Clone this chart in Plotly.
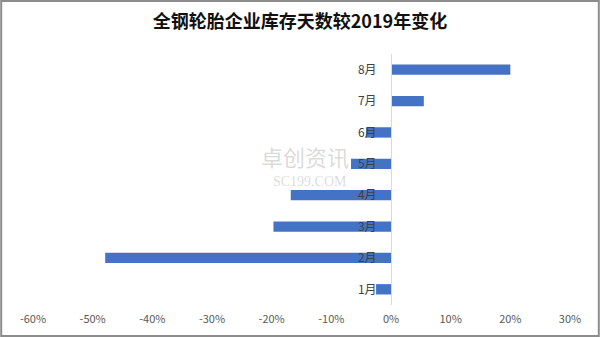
import plotly.graph_objects as go

months = ["1月", "2月", "3月", "4月", "5月", "6月", "7月", "8月"]
changes = [-0.025, -0.479, -0.197, -0.168, -0.067, -0.042, 0.055, 0.20]
x_ticks = [-0.6, -0.5, -0.4, -0.3, -0.2, -0.1, 0, 0.1, 0.2, 0.3]
x_tick_labels = ["-60%", "-50%", "-40%", "-30%", "-20%", "-10%", "0%", "10%", "20%", "30%"]
title_text = "全钢轮胎企业库存天数较2019年变化"

W, H = 600, 337
x_left, x_right = 33, 570
x_min, x_max = -0.6, 0.3
zero_px = x_left + (0 - x_min) / (x_max - x_min) * (x_right - x_left)

fig = go.Figure(go.Bar(
    x=changes, y=months, orientation="h",
    marker=dict(color="#4472C4", line=dict(width=0)),
    width=0.33,
))

fig.update_layout(
    width=W, height=H,
    margin=dict(l=0, r=0, t=0, b=0, autoexpand=False),
    paper_bgcolor="white", plot_bgcolor="white",
    showlegend=False,
    font=dict(family="Noto Sans CJK SC, Noto Sans, sans-serif", color="#404040"),
    title=dict(text="<b>" + title_text + "</b>", x=0.5, xanchor="center",
               y=1 - 22 / H, yanchor="middle",
               font=dict(size=18, color="#111111",
                         family="Noto Sans CJK SC, sans-serif")),
    xaxis=dict(domain=[x_left / W, x_right / W], range=[x_min, x_max],
               tickvals=x_ticks, ticktext=x_tick_labels, showgrid=False,
               zeroline=False, showline=False, ticks="", automargin=False,
               ticklabelstandoff=6,
               tickfont=dict(size=11, color="#595959")),
    yaxis=dict(domain=[1 - 305 / H, 1 - 54 / H], range=[-0.5, 7.5],
               anchor="free", position=zero_px / W, automargin=False,
               showgrid=False, zeroline=False,
               showline=True, linecolor="#d9d9d9", linewidth=1,
               ticks="", ticklabelstandoff=12,
               tickfont=dict(size=12, color="#404040")),
    shapes=[dict(type="rect", xref="paper", yref="paper",
                 x0=0.002, x1=0.998, y0=0.003, y1=0.997,
                 line=dict(color="#8c8c8c", width=2))],
    annotations=[
        dict(text="卓创资讯", x=305 / W, y=1 - 156 / H, xref="paper", yref="paper",
             showarrow=False, font=dict(size=22, color="rgba(150,150,150,0.35)")),
        dict(text="SC199.COM", x=310 / W, y=1 - 181 / H, xref="paper", yref="paper",
             showarrow=False, font=dict(size=14, color="rgba(150,150,150,0.35)",
                                        family="Liberation Serif")),
    ],
)

fig.write_html("out.html")
